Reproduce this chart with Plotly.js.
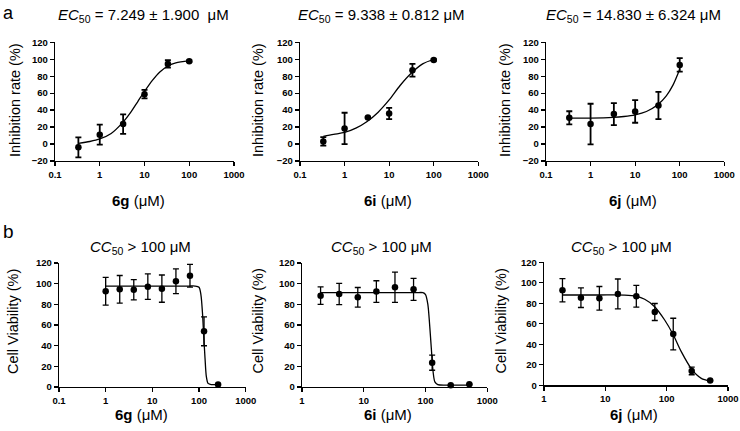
<!DOCTYPE html>
<html>
<head>
<meta charset="utf-8">
<script src="https://cdn.plot.ly/plotly-3.0.1.min.js"></script>
<style>
  html, body { margin: 0; padding: 0; background: #fff; }
  #chart { width: 740px; height: 431px; }
</style>
</head>
<body>
<div id="chart"></div>
<script>
// a: inhibition rate (%) vs concentration (uM)
const concA = [0.333, 1, 3.33, 10, 33.3, 100];
const inh6g = [-3.9, 11, 23.5, 58.8, 94.5, 97.6];
const inh6gErr = [11.8, 11.8, 11.4, 5, 4.3, 1];
const inh6i = [3.1, 18.4, 31.4, 36, 87, 99.2];
const inh6iErr = [5, 18.5, 0.5, 6.7, 7.5, 1];
const inh6j = [31, 23.5, 35.3, 38.4, 45.5, 93.3];
const inh6jErr = [7.7, 24, 12.9, 13.3, 16, 8];

// fitted curves
const fitA6gX = [0.333, 0.6, 1, 1.8, 3.2, 5, 7.25, 10, 15, 22, 32, 50, 100];
const fitA6gY = [0.8, 3, 6, 12.5, 25, 38, 51, 62, 75, 85, 91.5, 95.7, 98.4];
const fitA6iX = [0.333, 0.567, 1, 1.79, 3.21, 5.67, 10, 17.6, 32, 56.5, 100];
const fitA6iY = [9, 11.4, 13.7, 18.8, 26.7, 37.6, 52, 69, 84, 94.5, 100];
const fitA6jX = [0.333, 0.6, 1, 3.21, 5.6, 10, 17.9, 32, 50, 71, 100];
const fitA6jY = [30.6, 30.6, 30.6, 31.4, 32.5, 34.5, 38.4, 46.3, 56.9, 69.8, 88.2];

// b: cell viability (%)
const concB6g = [1, 2, 4, 8, 16, 32, 64, 128, 256];
const via6g = [92.6, 94.5, 94.2, 97.1, 95.2, 102.3, 107.7, 53.9, 2.3];
const via6gErr = [13.4, 13.4, 9.8, 12.3, 13.2, 12, 11, 14, 0.5];
const concB6i = [2, 4, 8, 16, 32, 64, 128, 256, 512];
const via6i = [88.4, 90, 86.8, 92.3, 96.5, 94.5, 23.5, 1.6, 2.6];
const via6iErr = [8.4, 10.2, 9.5, 10.5, 14.7, 10.6, 7.3, 0.5, 0.5];
const concB6j = [2, 4, 8, 16, 32, 64, 128, 256, 512];
const via6j = [92.7, 85.5, 84.9, 89.1, 86.8, 71.5, 50, 14, 4.6];
const via6jErr = [11.4, 9.6, 11.5, 14.6, 10.6, 8.3, 15.4, 3.7, 0.5];

const fitB6gX = [1, 16, 60, 82, 100, 110, 118, 126, 134.5, 143.6, 156, 175, 256];
const fitB6gY = [97.7, 97.7, 97.7, 97.7, 96.5, 89, 73, 50, 27.7, 10, 3.5, 2.6, 2.3];
const fitB6iX = [2, 20, 70, 90.6, 100, 109, 114.6, 120.5, 126.6, 133, 141.6, 158, 250, 512];
const fitB6iY = [91.3, 91.3, 91.3, 91.3, 89.5, 80, 66, 48, 30, 14, 5, 2.3, 1.9, 1.9];
const fitB6jX = [2, 8, 20.7, 32, 43.8, 63.7, 92.8, 128.5, 173, 256, 367, 509];
const fitB6jY = [88.1, 88.1, 88, 86.8, 83.9, 76.7, 63.7, 49.1, 32.8, 15.6, 6.8, 4.2];

const logTicks = [0.1, 1, 10, 100, 1000];
const logTickText = ["0.1", "1", "10", "100", "1000"];

const W = 740, H = 431;
const px = (v) => v / W;
const py = (v) => 1 - v / H;
const FONT = "Liberation Sans, Arial, sans-serif";

const panels = [
  { x: concA, y: inh6g, e: inh6gErr, fx: fitA6gX, fy: fitA6gY, xd: [55, 234], yd: [42.3, 161], xr: [-1, 3], yr: [-20, 120] },
  { x: concA, y: inh6i, e: inh6iErr, fx: fitA6iX, fy: fitA6iY, xd: [300, 478.3], yd: [42.3, 161], xr: [-1, 3], yr: [-20, 120] },
  { x: concA, y: inh6j, e: inh6jErr, fx: fitA6jX, fy: fitA6jY, xd: [546, 724.3], yd: [42.3, 161], xr: [-1, 3], yr: [-20, 120] },
  { x: concB6g, y: via6g, e: via6gErr, fx: fitB6gX, fy: fitB6gY, xd: [59, 245.7], yd: [263, 387], xr: [-1, 3], yr: [0, 120] },
  { x: concB6i, y: via6i, e: via6iErr, fx: fitB6iX, fy: fitB6iY, xd: [302, 487.3], yd: [263, 387], xr: [0, 3], yr: [0, 120] },
  { x: concB6j, y: via6j, e: via6jErr, fx: fitB6jX, fy: fitB6jY, xd: [544, 728], yd: [262.3, 385.3], xr: [0, 3], yr: [0, 120] }
];

const data = [];
const layout = {
  width: W, height: H,
  margin: { l: 0, r: 0, t: 0, b: 0 },
  paper_bgcolor: "#fff", plot_bgcolor: "#fff",
  showlegend: false,
  font: { family: FONT, color: "#000" },
  annotations: []
};

panels.forEach((p, i) => {
  const n = i === 0 ? "" : String(i + 1);
  const xa = "x" + n, ya = "y" + n;
  data.push({
    x: p.fx, y: p.fy, xaxis: xa, yaxis: ya,
    type: "scatter", mode: "lines",
    line: { color: "#000", width: 1.3, shape: "spline", smoothing: 0.8 },
    cliponaxis: false, hoverinfo: "skip"
  });
  data.push({
    x: p.x, y: p.y, xaxis: xa, yaxis: ya,
    type: "scatter", mode: "markers",
    marker: { color: "#000", size: 6.5 },
    error_y: { type: "data", array: p.e, visible: true, color: "#000", thickness: i < 3 ? 1.8 : 1.3, width: 3 },
    cliponaxis: false
  });
  const axisCommon = {
    showline: true, linecolor: "#000", linewidth: 1.3,
    ticks: "outside", ticklen: 4, tickwidth: 1.3, tickcolor: "#000",
    showgrid: false, zeroline: false, fixedrange: true,
    tickfont: { family: FONT, size: 9.5, weight: "bold", color: "#000" }
  };
  layout["xaxis" + n] = Object.assign({}, axisCommon, {
    domain: [px(p.xd[0]), px(p.xd[1])], anchor: ya,
    type: "log", range: p.xr,
    tickmode: "array", tickvals: logTicks, ticktext: logTickText
  });
  layout["yaxis" + n] = Object.assign({}, axisCommon, {
    domain: [py(p.yd[1]), py(p.yd[0])], anchor: xa,
    range: p.yr, tickmode: "linear", tick0: 0, dtick: 20
  });
});

const ann = (text, x, y, size, extra) => Object.assign({
  text: text, x: px(x), y: py(y), xref: "paper", yref: "paper",
  xanchor: "center", yanchor: "middle", showarrow: false,
  font: { family: FONT, size: size, color: "#000" }
}, extra || {});

const topTitles = [
  ["<i>EC</i><sub>50</sub> = 7.249 ± 1.900\u00a0 μM", 143],
  ["<i>EC</i><sub>50</sub> = 9.338 ± 0.812 μM", 382],
  ["<i>EC</i><sub>50</sub> = 14.830 ± 6.324 μM", 633]
];
topTitles.forEach(t => layout.annotations.push(ann(t[0], t[1], 15, 15)));

[140, 382, 621].forEach(x => layout.annotations.push(ann("<i>CC</i><sub>50</sub> > 100 μM", x, 247.5, 15)));

[15, 258, 505].forEach(x => layout.annotations.push(ann("Inhibition rate (%)", x, 100, 14.5, { textangle: -90 })));
[12.5, 257, 500].forEach(x => layout.annotations.push(ann("Cell Viability (%)", x, 321.5, 14.5, { textangle: -90 })));

const xTitles = [
  ["<b>6g</b> (μM)", 138.3, 200], ["<b>6i</b> (μM)", 387.5, 200], ["<b>6j</b> (μM)", 633, 200],
  ["<b>6g</b> (μM)", 141, 414], ["<b>6i</b> (μM)", 388, 414], ["<b>6j</b> (μM)", 634, 414]
];
xTitles.forEach(t => layout.annotations.push(ann(t[0], t[1], t[2], 15)));

// panel letters
layout.annotations.push(ann("a", 8, 12.5, 18));
layout.annotations.push(ann("b", 8, 231, 19));

Plotly.newPlot("chart", data, layout, { staticPlot: true, displayModeBar: false });
</script>
</body>
</html>
